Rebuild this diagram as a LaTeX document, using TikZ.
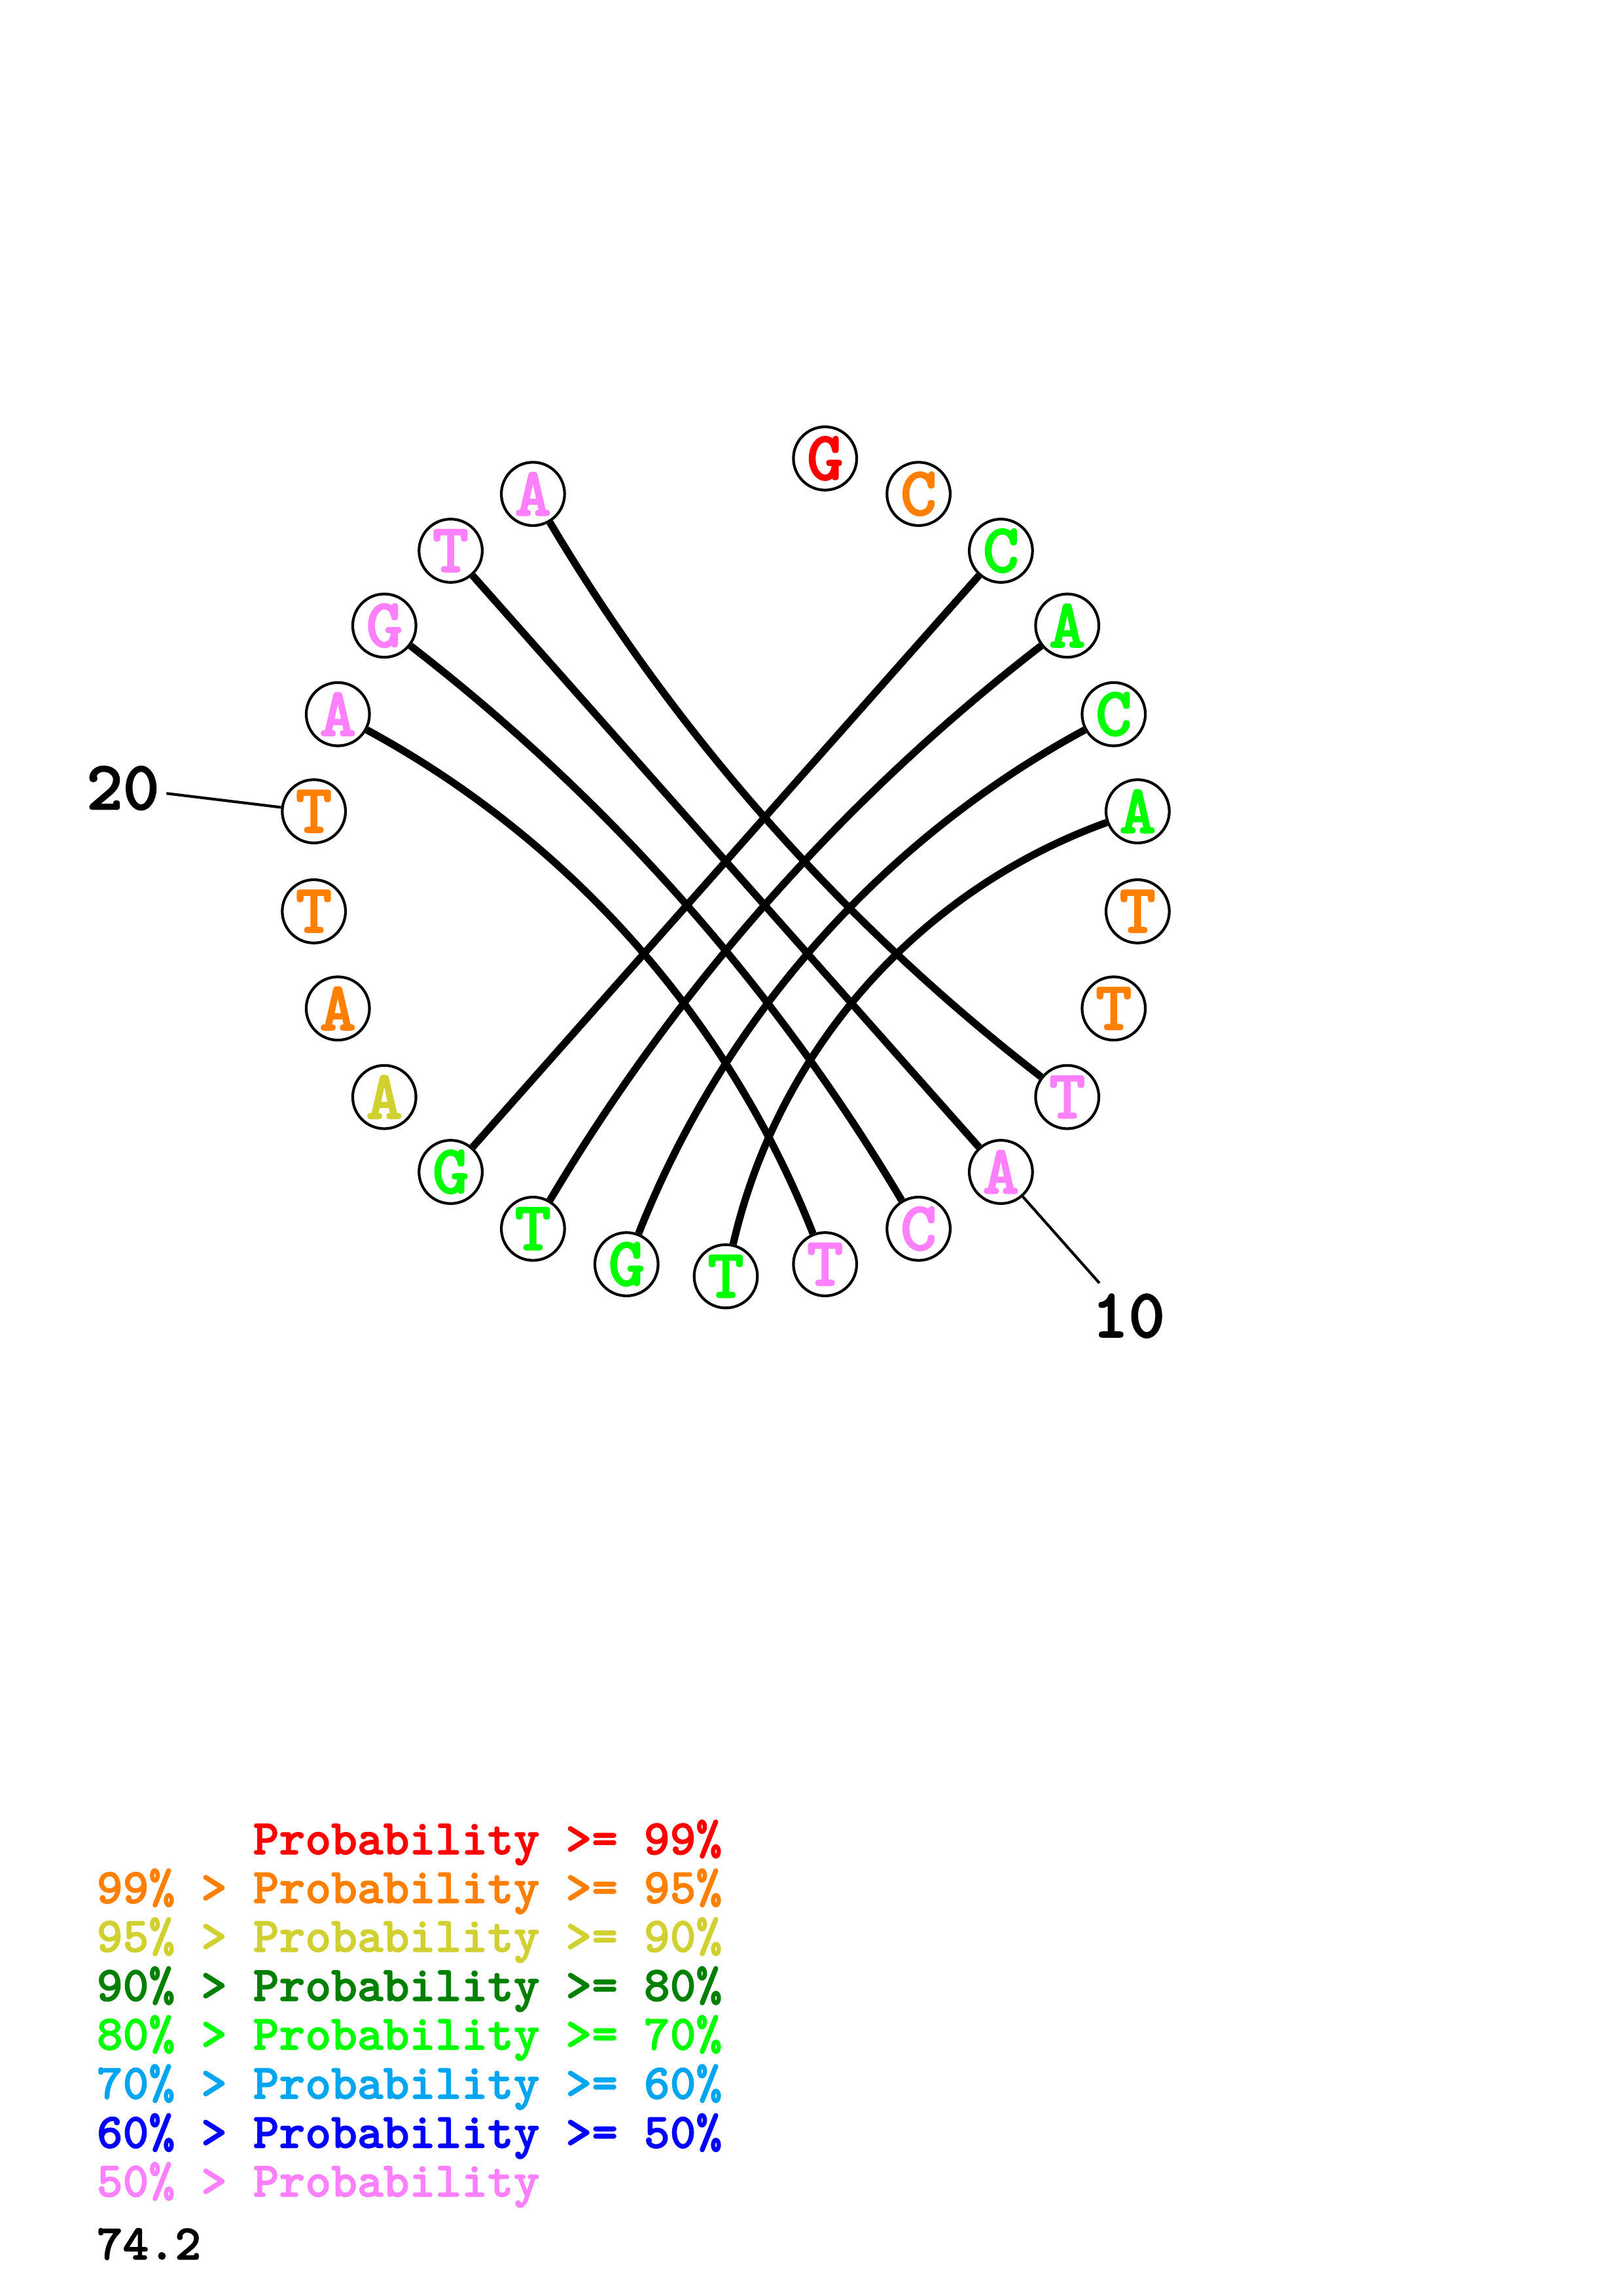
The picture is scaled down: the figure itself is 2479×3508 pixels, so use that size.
\documentclass[tikz,border=0pt]{standalone}
\usepackage{fontspec}
\usepackage{tikz}
\newfontfamily\monob[FakeBold=1.6]{lmmonolt10-bold.otf}
\definecolor{cR}{RGB}{255,0,0}
\definecolor{cO}{RGB}{255,128,0}
\definecolor{cY}{RGB}{208,208,48}
\definecolor{cDG}{RGB}{0,128,0}
\definecolor{cG}{RGB}{0,255,0}
\definecolor{cLB}{RGB}{0,165,240}
\definecolor{cB}{RGB}{0,0,255}
\definecolor{cP}{RGB}{255,128,255}
\begin{document}
\begin{tikzpicture}[x=0.24pt,y=-0.24pt,
  nt/.style={circle,draw=black,line width=1pt,fill=white,minimum size=23.2pt,inner sep=0pt,
    font=\monob\fontsize{25.5}{25.5}\selectfont},
  pair/.style={line width=2.7pt},
  leader/.style={line width=1pt},
  lab/.style={font=\monob\fontsize{25.5}{25.5}\selectfont,inner sep=0pt},
  leg/.style={anchor=base west,inner sep=0pt,font=\monob\fontsize{18.2}{18.2}\selectfont}]
\path[use as bounding box] (0,0) rectangle (2479,3508);
% nucleotides
\def\cx{1109}\def\cy{1316}\def\R{634}
\node[nt,text=cR]  (n1)  at ({\cx+\R*sin(1*360/26)},{\cy-\R*cos(1*360/26)}) {G};
\node[nt,text=cO]  (n2)  at ({\cx+\R*sin(2*360/26)},{\cy-\R*cos(2*360/26)}) {C};
\node[nt,text=cG]  (n3)  at ({\cx+\R*sin(3*360/26)},{\cy-\R*cos(3*360/26)}) {C};
\node[nt,text=cG]  (n4)  at ({\cx+\R*sin(4*360/26)},{\cy-\R*cos(4*360/26)}) {A};
\node[nt,text=cG]  (n5)  at ({\cx+\R*sin(5*360/26)},{\cy-\R*cos(5*360/26)}) {C};
\node[nt,text=cG]  (n6)  at ({\cx+\R*sin(6*360/26)},{\cy-\R*cos(6*360/26)}) {A};
\node[nt,text=cO]  (n7)  at ({\cx+\R*sin(7*360/26)},{\cy-\R*cos(7*360/26)}) {T};
\node[nt,text=cO]  (n8)  at ({\cx+\R*sin(8*360/26)},{\cy-\R*cos(8*360/26)}) {T};
\node[nt,text=cP]  (n9)  at ({\cx+\R*sin(9*360/26)},{\cy-\R*cos(9*360/26)}) {T};
\node[nt,text=cP]  (n10) at ({\cx+\R*sin(10*360/26)},{\cy-\R*cos(10*360/26)}) {A};
\node[nt,text=cP]  (n11) at ({\cx+\R*sin(11*360/26)},{\cy-\R*cos(11*360/26)}) {C};
\node[nt,text=cP]  (n12) at ({\cx+\R*sin(12*360/26)},{\cy-\R*cos(12*360/26)}) {T};
\node[nt,text=cG]  (n13) at ({\cx+\R*sin(13*360/26)},{\cy-\R*cos(13*360/26)}) {T};
\node[nt,text=cG]  (n14) at ({\cx+\R*sin(14*360/26)},{\cy-\R*cos(14*360/26)}) {G};
\node[nt,text=cG]  (n15) at ({\cx+\R*sin(15*360/26)},{\cy-\R*cos(15*360/26)}) {T};
\node[nt,text=cG]  (n16) at ({\cx+\R*sin(16*360/26)},{\cy-\R*cos(16*360/26)}) {G};
\node[nt,text=cY]  (n17) at ({\cx+\R*sin(17*360/26)},{\cy-\R*cos(17*360/26)}) {A};
\node[nt,text=cO]  (n18) at ({\cx+\R*sin(18*360/26)},{\cy-\R*cos(18*360/26)}) {A};
\node[nt,text=cO]  (n19) at ({\cx+\R*sin(19*360/26)},{\cy-\R*cos(19*360/26)}) {T};
\node[nt,text=cO]  (n20) at ({\cx+\R*sin(20*360/26)},{\cy-\R*cos(20*360/26)}) {T};
\node[nt,text=cP]  (n21) at ({\cx+\R*sin(21*360/26)},{\cy-\R*cos(21*360/26)}) {A};
\node[nt,text=cP]  (n22) at ({\cx+\R*sin(22*360/26)},{\cy-\R*cos(22*360/26)}) {G};
\node[nt,text=cP]  (n23) at ({\cx+\R*sin(23*360/26)},{\cy-\R*cos(23*360/26)}) {T};
\node[nt,text=cP]  (n24) at ({\cx+\R*sin(24*360/26)},{\cy-\R*cos(24*360/26)}) {A};
% pairs
\draw[pair] (n24) to[bend right=10.8,looseness=0.859] (n9);
\draw[pair] (n23) -- (n10);
\draw[pair] (n11) to[bend right=10.8,looseness=0.859] (n22);
\draw[pair] (n12) to[bend right=20,looseness=0.878] (n21);
\draw[pair] (n3) -- (n16);
\draw[pair] (n4) to[bend right=10.8,looseness=0.859] (n15);
\draw[pair] (n5) to[bend right=20,looseness=0.878] (n14);
\draw[pair] (n6) to[bend right=28.6,looseness=0.907] (n13);
% position labels
\coordinate (e20) at ({\cx+861*sin(20*360/26)},{\cy-861*cos(20*360/26)});
\coordinate (e10) at ({\cx+861*sin(10*360/26)},{\cy-861*cos(10*360/26)});
\node[lab] (t20) at ({\cx+928*sin(20*360/26)},{\cy-928*cos(20*360/26)}) {20};
\node[lab] (t10) at ({\cx+928*sin(10*360/26)},{\cy-928*cos(10*360/26)}) {10};
\draw[leader] (n20) -- (e20);
\draw[leader] (n10) -- (e10);
% legend
\node[leg,text=cR]  (g1) at (147,2833) {\hphantom{99\% > }Probability >= 99\%};
\node[leg,text=cO]  (g2) at (147,2907.5) {99\% > Probability >= 95\%};
\node[leg,text=cY]  (g3) at (147,2982) {95\% > Probability >= 90\%};
\node[leg,text=cDG] (g4) at (147,3057) {90\% > Probability >= 80\%};
\node[leg,text=cG]  (g5) at (147,3131.5) {80\% > Probability >= 70\%};
\node[leg,text=cLB] (g6) at (147,3206.5) {70\% > Probability >= 60\%};
\node[leg,text=cB]  (g7) at (147,3281.5) {60\% > Probability >= 50\%};
\node[leg,text=cP]  (g8) at (147,3356) {50\% > Probability};
\node[leg,text=black] (g9) at (147,3452) {74.2};
\end{tikzpicture}
\end{document}
